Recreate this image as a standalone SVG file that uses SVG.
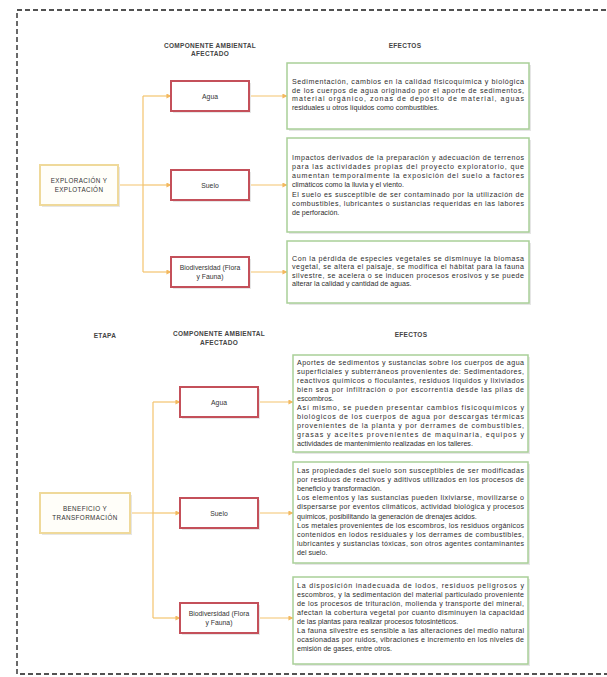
<svg xmlns="http://www.w3.org/2000/svg" width="607" height="677" viewBox="0 0 607 677">
<style>
.bg{fill:#ffffff}
.frame{fill:none;stroke:#1a1a1a;stroke-width:1.3;stroke-dasharray:5 3}
.etapa{fill:#fffef9;stroke:#efd99a;stroke-width:2}
.comp{fill:#ffffff;stroke:#c4505a;stroke-width:2}
.eff{fill:#ffffff;stroke:#a9cf98;stroke-width:1.5}
.shadow{fill:#e6e6e6}
.con{fill:none;stroke:#f3c46e;stroke-width:1.2}
.hdr{font-family:"Liberation Sans",Arial,sans-serif;font-size:6.5px;font-weight:bold;fill:#444;text-anchor:middle;letter-spacing:0.3px}
.lbl{font-family:"Liberation Sans",Arial,sans-serif;font-size:6.8px;fill:#333;text-anchor:middle}
.elbl{font-family:"Liberation Sans",Arial,sans-serif;font-size:6.3px;fill:#333;text-anchor:middle;letter-spacing:0.4px}
.t{font-family:"Liberation Sans",Arial,sans-serif;font-size:7.1px;fill:#2e2e2e}
</style>
<defs>
<marker id="ah" viewBox="0 0 6 6" refX="5.5" refY="3" markerWidth="5" markerHeight="5" orient="auto" markerUnits="userSpaceOnUse">
<path d="M0,0 L6,3 L0,6 z" fill="#f3b85e"/>
</marker>
</defs>
<rect class="bg" x="0" y="0" width="607" height="677"/>
<rect class="frame" x="17" y="10" width="600" height="664"/>

<g id="headers">
<text class="hdr" x="210" y="48">COMPONENTE AMBIENTAL</text>
<text class="hdr" x="210" y="56">AFECTADO</text>
<text class="hdr" x="405" y="48">EFECTOS</text>
<text class="hdr" x="105" y="338">ETAPA</text>
<text class="hdr" x="219" y="336">COMPONENTE AMBIENTAL</text>
<text class="hdr" x="219" y="345">AFECTADO</text>
<text class="hdr" x="411" y="337">EFECTOS</text>
</g>

<g id="connectors">
<path class="con" d="M118,185 H143 M143,96 V272"/>
<path class="con" d="M143,96 H171" marker-end="url(#ah)"/>
<path class="con" d="M143,185 H171" marker-end="url(#ah)"/>
<path class="con" d="M143,272 H171" marker-end="url(#ah)"/>
<path class="con" d="M249,96 H287" marker-end="url(#ah)"/>
<path class="con" d="M249,185 H287" marker-end="url(#ah)"/>
<path class="con" d="M249,272 H287" marker-end="url(#ah)"/>
<path class="con" d="M130,513 H153 M153,402 V618"/>
<path class="con" d="M153,402 H180" marker-end="url(#ah)"/>
<path class="con" d="M153,513 H180" marker-end="url(#ah)"/>
<path class="con" d="M153,618 H180" marker-end="url(#ah)"/>
<path class="con" d="M258,402 H293" marker-end="url(#ah)"/>
<path class="con" d="M258,513 H293" marker-end="url(#ah)"/>
<path class="con" d="M258,618 H293" marker-end="url(#ah)"/>
</g>

<g id="etapa-exploracion">
<rect class="shadow" x="42" y="167" width="78" height="40"/>
<rect class="etapa" x="40" y="165" width="78" height="40"/>
<text class="elbl" x="79" y="183">EXPLORACIÓN Y</text>
<text class="elbl" x="79" y="192">EXPLOTACIÓN</text>
</g>

<g id="comp-agua-1">
<rect class="shadow" x="173" y="83" width="78" height="30"/>
<rect class="comp" x="171" y="81" width="78" height="30"/>
<text class="lbl" x="210" y="98.5">Agua</text>
</g>
<g id="comp-suelo-1">
<rect class="shadow" x="173" y="172" width="78" height="30"/>
<rect class="comp" x="171" y="170" width="78" height="30"/>
<text class="lbl" x="210" y="187.5">Suelo</text>
</g>
<g id="comp-bio-1">
<rect class="shadow" x="173" y="259" width="78" height="30"/>
<rect class="comp" x="171" y="257" width="78" height="30"/>
<text class="lbl" x="210" y="270">Biodiversidad (Flora</text>
<text class="lbl" x="210" y="279">y Fauna)</text>
</g>

<g id="efecto-agua-1">
<rect class="shadow" x="289" y="65" width="242" height="66"/>
<rect class="eff" x="287" y="63" width="242" height="66"/>
<text class="t" x="292" y="84" textLength="232" lengthAdjust="spacing">Sedimentación, cambios en la calidad fisicoquímica y biológica</text>
<text class="t" x="292" y="92.5" textLength="232" lengthAdjust="spacing">de los cuerpos de agua originado por el aporte de sedimentos,</text>
<text class="t" x="292" y="101" textLength="232" lengthAdjust="spacing">material orgánico, zonas de depósito de material, aguas</text>
<text class="t" x="292" y="109.5">residuales u otros líquidos como combustibles.</text>
</g>

<g id="efecto-suelo-1">
<rect class="shadow" x="289" y="140" width="242" height="94"/>
<rect class="eff" x="287" y="138" width="242" height="94"/>
<text class="t" x="292" y="159.5" textLength="232" lengthAdjust="spacing">Impactos derivados de la preparación y adecuación de terrenos</text>
<text class="t" x="292" y="168.8" textLength="232" lengthAdjust="spacing">para las actividades propias del proyecto exploratorio, que</text>
<text class="t" x="292" y="178.1" textLength="232" lengthAdjust="spacing">aumentan temporalmente la exposición del suelo a factores</text>
<text class="t" x="292" y="187.4">climáticos como la lluvia y el viento.</text>
<text class="t" x="292" y="196.7" textLength="232" lengthAdjust="spacing">El suelo es susceptible de ser contaminado por la utilización de</text>
<text class="t" x="292" y="206" textLength="232" lengthAdjust="spacing">combustibles, lubricantes o sustancias requeridas en las labores</text>
<text class="t" x="292" y="215.3">de perforación.</text>
</g>

<g id="efecto-bio-1">
<rect class="shadow" x="289" y="243" width="242" height="62"/>
<rect class="eff" x="287" y="241" width="242" height="62"/>
<text class="t" x="292" y="260.5" textLength="232" lengthAdjust="spacing">Con la pérdida de especies vegetales se disminuye la biomasa</text>
<text class="t" x="292" y="269" textLength="232" lengthAdjust="spacing">vegetal, se altera el paisaje, se modifica el hábitat para la fauna</text>
<text class="t" x="292" y="277.5" textLength="232" lengthAdjust="spacing">silvestre, se acelera o se inducen procesos erosivos y se puede</text>
<text class="t" x="292" y="286">alterar la calidad y cantidad de aguas.</text>
</g>

<g id="etapa-beneficio">
<rect class="shadow" x="42" y="495" width="90" height="40"/>
<rect class="etapa" x="40" y="493" width="90" height="40"/>
<text class="elbl" x="85" y="511">BENEFICIO Y</text>
<text class="elbl" x="85" y="520">TRANSFORMACIÓN</text>
</g>

<g id="comp-agua-2">
<rect class="shadow" x="182" y="389" width="78" height="30"/>
<rect class="comp" x="180" y="387" width="78" height="30"/>
<text class="lbl" x="219" y="404.5">Agua</text>
</g>
<g id="comp-suelo-2">
<rect class="shadow" x="182" y="500" width="78" height="30"/>
<rect class="comp" x="180" y="498" width="78" height="30"/>
<text class="lbl" x="219" y="515.5">Suelo</text>
</g>
<g id="comp-bio-2">
<rect class="shadow" x="182" y="605" width="78" height="30"/>
<rect class="comp" x="180" y="603" width="78" height="30"/>
<text class="lbl" x="219" y="616">Biodiversidad (Flora</text>
<text class="lbl" x="219" y="625">y Fauna)</text>
</g>

<g id="efecto-agua-2">
<rect class="shadow" x="295" y="357" width="235" height="97"/>
<rect class="eff" x="293" y="355" width="235" height="97"/>
<text class="t" x="297" y="364.5" textLength="227" lengthAdjust="spacing">Aportes de sedimentos y sustancias sobre los cuerpos de agua</text>
<text class="t" x="297" y="373.6" textLength="227" lengthAdjust="spacing">superficiales y subterráneos provenientes de: Sedimentadores,</text>
<text class="t" x="297" y="382.7" textLength="227" lengthAdjust="spacing">reactivos químicos o floculantes, residuos líquidos y lixiviados</text>
<text class="t" x="297" y="391.8" textLength="227" lengthAdjust="spacing">bien sea por infiltración o por escorrentía desde las pilas de</text>
<text class="t" x="297" y="400.9">escombros.</text>
<text class="t" x="297" y="410" textLength="227" lengthAdjust="spacing">Así mismo, se pueden presentar cambios fisicoquímicos y</text>
<text class="t" x="297" y="419.1" textLength="227" lengthAdjust="spacing">biológicos de los cuerpos de agua por descargas térmicas</text>
<text class="t" x="297" y="428.2" textLength="227" lengthAdjust="spacing">provenientes de la planta y por derrames de combustibles,</text>
<text class="t" x="297" y="437.3" textLength="227" lengthAdjust="spacing">grasas y aceites provenientes de maquinaria, equipos y</text>
<text class="t" x="297" y="446.4">actividades de mantenimiento realizadas en los talleres.</text>
</g>

<g id="efecto-suelo-2">
<rect class="shadow" x="295" y="464" width="235" height="101"/>
<rect class="eff" x="293" y="462" width="235" height="101"/>
<text class="t" x="297" y="473" textLength="227" lengthAdjust="spacing">Las propiedades del suelo son susceptibles de ser modificadas</text>
<text class="t" x="297" y="482.1" textLength="227" lengthAdjust="spacing">por residuos de reactivos y aditivos utilizados en los procesos de</text>
<text class="t" x="297" y="491.2">beneficio y transformación.</text>
<text class="t" x="297" y="500.3" textLength="227" lengthAdjust="spacing">Los elementos y las sustancias pueden lixiviarse, movilizarse o</text>
<text class="t" x="297" y="509.4" textLength="227" lengthAdjust="spacing">dispersarse por eventos climáticos, actividad biológica y procesos</text>
<text class="t" x="297" y="518.5">químicos, posibilitando la generación de drenajes ácidos.</text>
<text class="t" x="297" y="527.6" textLength="227" lengthAdjust="spacing">Los metales provenientes de los escombros, los residuos orgánicos</text>
<text class="t" x="297" y="536.7" textLength="227" lengthAdjust="spacing">contenidos en lodos residuales y los derrames de combustibles,</text>
<text class="t" x="297" y="545.8" textLength="227" lengthAdjust="spacing">lubricantes y sustancias tóxicas, son otros agentes contaminantes</text>
<text class="t" x="297" y="554.9">del suelo.</text>
</g>

<g id="efecto-bio-2">
<rect class="shadow" x="295" y="579" width="235" height="87"/>
<rect class="eff" x="293" y="577" width="235" height="87"/>
<text class="t" x="297" y="587.5" textLength="227" lengthAdjust="spacing">La disposición inadecuada de lodos, residuos peligrosos y</text>
<text class="t" x="297" y="596.6" textLength="227" lengthAdjust="spacing">escombros, y la sedimentación del material particulado proveniente</text>
<text class="t" x="297" y="605.7" textLength="227" lengthAdjust="spacing">de los procesos de trituración, molienda y transporte del mineral,</text>
<text class="t" x="297" y="614.8" textLength="227" lengthAdjust="spacing">afectan la cobertura vegetal por cuanto disminuyen la capacidad</text>
<text class="t" x="297" y="623.9">de las plantas para realizar procesos fotosintéticos.</text>
<text class="t" x="297" y="633" textLength="227" lengthAdjust="spacing">La fauna silvestre es sensible a las alteraciones del medio natural</text>
<text class="t" x="297" y="642.1" textLength="227" lengthAdjust="spacing">ocasionadas por ruidos, vibraciones e incremento en los niveles de</text>
<text class="t" x="297" y="651.2">emisión de gases, entre otros.</text>
</g>
</svg>
